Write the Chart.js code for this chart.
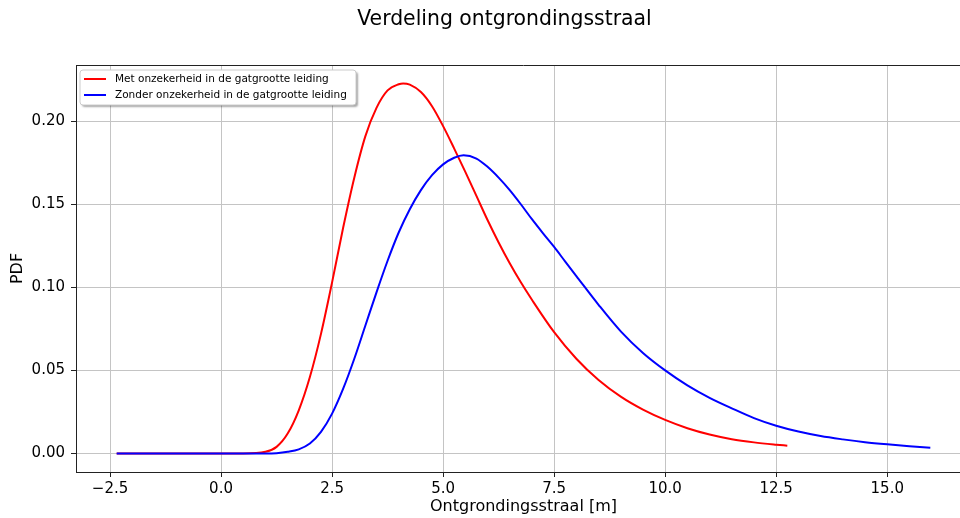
<!DOCTYPE html>
<html>
<head>
<meta charset="utf-8">
<script src="https://cdn.jsdelivr.net/npm/chart.js@4.4.0/dist/chart.umd.min.js"></script>
<style>
  html, body { margin: 0; padding: 0; background: #fff; overflow: hidden; }
  #wrap { width: 971px; height: 518px; }
</style>
</head>
<body>
<div id="wrap"><canvas id="chart" width="971" height="518"></canvas></div>
<script>
// values
const chartTitle = 'Verdeling ontgrondingsstraal';
const seriesLabels = ['Met onzekerheid in de gatgrootte leiding', 'Zonder onzekerheid in de gatgrootte leiding'];
const redX   = [-2.35, 0.5, 1.0, 1.25, 1.5, 1.75, 2.0, 2.25, 2.5, 2.75, 3.0, 3.25, 3.5, 3.75, 4.0, 4.1, 4.25, 4.5, 4.75, 5.0, 5.25, 5.5, 5.75, 6.0, 6.25, 6.5, 6.75, 7.0, 7.5, 8.0, 8.5, 9.0, 9.5, 10.0, 10.5, 11.0, 11.5, 12.0, 12.5, 12.75];
const redPdf = [0, 0, 0.001, 0.004, 0.012, 0.026, 0.046, 0.072, 0.103, 0.136, 0.166, 0.191, 0.208, 0.2185, 0.2222, 0.2227, 0.222, 0.2175, 0.209, 0.197, 0.1835, 0.1695, 0.155, 0.1405, 0.127, 0.1145, 0.103, 0.0925, 0.073, 0.057, 0.0442, 0.0342, 0.0264, 0.0202, 0.0152, 0.0114, 0.0086, 0.0067, 0.0053, 0.0047];
const blueX   = [-2.35, 1.0, 1.25, 1.5, 1.75, 2.0, 2.25, 2.5, 2.75, 3.0, 3.25, 3.5, 3.75, 4.0, 4.25, 4.5, 4.75, 5.0, 5.25, 5.46, 5.75, 6.0, 6.25, 6.5, 6.75, 7.0, 7.25, 7.5, 7.75, 8.0, 8.5, 9.0, 9.5, 10.0, 10.5, 11.0, 11.5, 12.0, 12.5, 13.0, 13.5, 14.0, 14.5, 15.0, 15.5, 15.97];
const bluePdf = [0, 0, 0.0002, 0.001, 0.0025, 0.006, 0.013, 0.024, 0.039, 0.057, 0.077, 0.097, 0.116, 0.133, 0.147, 0.1585, 0.1675, 0.174, 0.178, 0.1795, 0.1775, 0.1725, 0.166, 0.1585, 0.150, 0.141, 0.1325, 0.1243, 0.1155, 0.1068, 0.0895, 0.0735, 0.0605, 0.050, 0.041, 0.0335, 0.0272, 0.0213, 0.0167, 0.0132, 0.0105, 0.0085, 0.0068, 0.0055, 0.0044, 0.0035];
const xTicks = [-2.5, 0, 2.5, 5, 7.5, 10, 12.5, 15];
const yTicks = [0, 0.05, 0.10, 0.15, 0.20];

const FONT = 'DejaVu Sans';

function toPoints(xs, ys) {
  return xs.map((x, i) => ({ x: x, y: ys[i] }));
}

// figure title, top edge of the axes frame and the legend box.
// The axes run on past the right side of the window, like in the original,
// so the title is centred on the full figure (~1009px wide) and not on the canvas.
const extras = {
  id: 'extras',
  afterDatasetsDraw(chart) {
    const ctx = chart.ctx;
    const a = chart.chartArea;
    ctx.save();
    ctx.strokeStyle = '#222';
    ctx.lineWidth = 1;
    ctx.beginPath();
    ctx.moveTo(Math.round(a.left), Math.round(a.top) + 0.5);
    ctx.lineTo(Math.round(a.right), Math.round(a.top) + 0.5);
    ctx.stroke();

    ctx.fillStyle = '#000';
    ctx.font = '20.4px "' + FONT + '"';
    ctx.textAlign = 'center';
    ctx.textBaseline = 'middle';
    ctx.fillText(chartTitle, 504.5, 20);

    // legend
    const bx = 80, by = 70, bw = 276, bh = 35;
    ctx.shadowColor = 'rgba(0,0,0,0.35)';
    ctx.shadowOffsetX = 2;
    ctx.shadowOffsetY = 2;
    ctx.shadowBlur = 2;
    ctx.fillStyle = '#fff';
    ctx.beginPath();
    ctx.roundRect(bx, by, bw, bh, 3);
    ctx.fill();
    ctx.shadowColor = 'transparent';
    ctx.strokeStyle = '#ccc';
    ctx.stroke();

    ctx.font = '10.5px "' + FONT + '"';
    ctx.textBaseline = 'middle';
    ctx.textAlign = 'left';
    chart.data.datasets.forEach((ds, i) => {
      const y = 79 + i * 16;
      ctx.strokeStyle = ds.borderColor;
      ctx.lineWidth = 2;
      ctx.beginPath();
      ctx.moveTo(84, y);
      ctx.lineTo(106, y);
      ctx.stroke();
      ctx.fillStyle = '#000';
      ctx.fillText(ds.label, 115, y);
    });
    ctx.restore();
  }
};

new Chart(document.getElementById('chart'), {
  type: 'line',
  data: {
    datasets: [
      {
        label: seriesLabels[0],
        data: toPoints(redX, redPdf),
        borderColor: '#ff0000',
        borderWidth: 2,
        pointRadius: 0,
        order: 1,
        cubicInterpolationMode: 'monotone'
      },
      {
        label: seriesLabels[1],
        data: toPoints(blueX, bluePdf),
        borderColor: '#0000ff',
        borderWidth: 2,
        pointRadius: 0,
        order: 0,
        cubicInterpolationMode: 'monotone'
      }
    ]
  },
  options: {
    responsive: false,
    animation: false,
    layout: { padding: { top: 65, left: 0, right: 0, bottom: 0 } },
    plugins: {
      legend: { display: false },
      tooltip: { enabled: false },
      title: { display: false }
    },
    scales: {
      x: {
        type: 'linear',
        min: -3.266,
        max: 16.886,
        afterFit: (s) => { s.height = 46; s.paddingLeft = 0; s.paddingRight = 0; },
        afterBuildTicks: (s) => { s.ticks = xTicks.map(v => ({ value: v })); },
        grid: { color: '#c4c4c4', tickColor: '#222', tickLength: 5 },
        border: { color: '#222' },
        ticks: {
          color: '#000',
          padding: 3,
          maxRotation: 0,
          font: { family: FONT, size: 15 },
          callback: (v) => (v < 0 ? '\u2212' : '') + Math.abs(v).toFixed(1)
        },
        title: {
          display: true,
          text: 'Ontgrondingsstraal [m]',
          color: '#000',
          font: { family: FONT, size: 16 },
          padding: { top: 0, bottom: 2 }
        }
      },
      y: {
        min: -0.01113,
        max: 0.2338,
        afterFit: (s) => { s.width = 76; },
        afterBuildTicks: (s) => { s.ticks = yTicks.map(v => ({ value: v })); },
        grid: { color: '#c4c4c4', tickColor: '#222', tickLength: 5 },
        border: { color: '#222' },
        ticks: {
          color: '#000',
          padding: 6,
          font: { family: FONT, size: 15 },
          callback: (v) => v.toFixed(2)
        },
        title: {
          display: true,
          text: 'PDF',
          color: '#000',
          font: { family: FONT, size: 16 },
          padding: { top: 8, bottom: 0 }
        }
      }
    }
  },
  plugins: [extras]
});
</script>
</body>
</html>
